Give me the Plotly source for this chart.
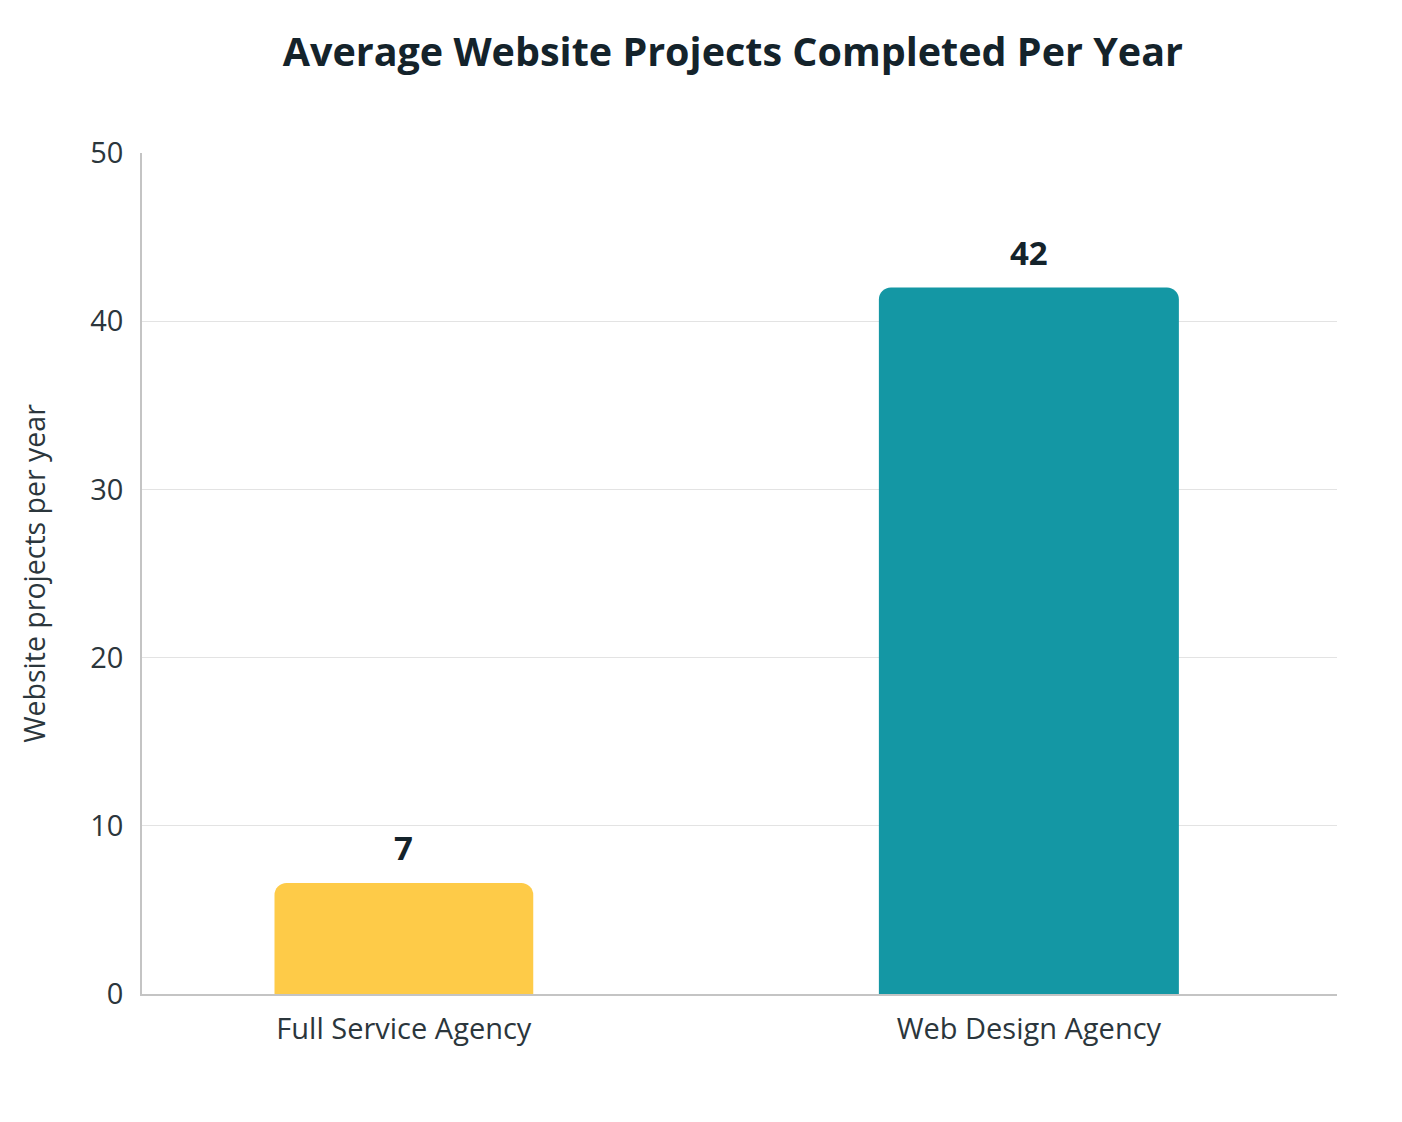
import plotly.graph_objects as go

# data
categories = ["Full Service Agency", "Web Design Agency"]
projects = [6.6, 42]
value_labels = ["7", "42"]

BAR_COLORS = ["#FECB48", "#1497A4"]
BAR_WIDTHS = [0.414, 0.48]
FONT = "'Open Sans', 'Noto Sans', sans-serif"
INK = "#14232b"
TXT = "#2b363c"

fig = go.Figure()
fig.add_trace(go.Bar(
    x=categories, y=projects, width=BAR_WIDTHS,
    marker=dict(color=BAR_COLORS, cornerradius=12, line_width=0),
    hoverinfo="x+y", showlegend=False))

# value labels above the bars
for cat, val, lab in zip(categories, projects, value_labels):
    fig.add_annotation(x=cat, y=val, text=f"<b>{lab}</b>", showarrow=False,
                       yanchor="bottom", yshift=11,
                       font=dict(family=FONT, size=33, color=INK))

fig.update_layout(
    title=dict(text="<b>Average Website Projects Completed Per Year</b>",
               x=0.517, xanchor="center", y=0.961, yanchor="middle",
               font=dict(family=FONT, size=39.5, color=INK)),
    width=1402, height=1122,
    margin=dict(l=134, r=73, t=145, b=136),
    plot_bgcolor="white", paper_bgcolor="white",
    font=dict(family=FONT, size=28, color=TXT),
    xaxis=dict(type="category", range=[-0.419, 1.493],
               showline=True, linecolor="#c4c4c4", linewidth=1.5,
               ticks="", ticklabelstandoff=8,
               tickfont=dict(size=29, color=TXT)),
    yaxis=dict(range=[0, 50], dtick=10, showgrid=True,
               gridcolor="#e3e3e3", gridwidth=1,
               showline=True, linecolor="#c4c4c4", linewidth=1.5,
               zeroline=False, ticks="", ticklabelstandoff=11,
               tickfont=dict(size=29, color=TXT),
               title=dict(text="Website projects per year", standoff=36,
                          font=dict(size=28.5, color=TXT))),
)

fig.write_html("out.html")
